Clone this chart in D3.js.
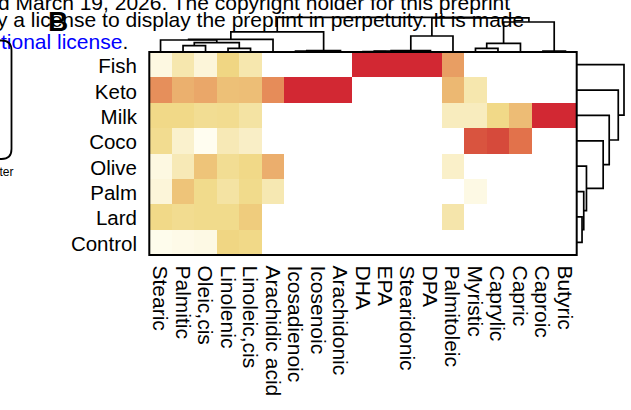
<!DOCTYPE html>
<html>
<head>
<meta charset="utf-8">
<script src="https://cdn.jsdelivr.net/npm/d3@7"></script>
<style>
  html, body { margin: 0; padding: 0; background: #fff; overflow: hidden; }
  svg { display: block; font-family: "Liberation Sans", Arial, Helvetica, sans-serif; }
</style>
</head>
<body>
<svg id="chart" width="631" height="410"></svg>
<script>
// Diets (rows) and fatty acids (columns), already in dendrogram leaf order
const diets = ["Fish", "Keto", "Milk", "Coco", "Olive", "Palm", "Lard", "Control"];
const fattyAcids = ["Stearic", "Palmitic", "Oleic,cis", "Linolenic", "Linoleic,cis",
  "Arachidic acid", "Icosadienoic", "Icosenoic", "Arachidonic", "DHA", "EPA",
  "Stearidonic", "DPA", "Palmitoleic", "Myristic", "Caprylic", "Capric", "Caproic", "Butyric"];

// Scaled fatty-acid abundance per diet (0 = absent, 1 = maximum), columns in fattyAcids order
const fish    = [0.06, 0.19, 0.08, 0.31, 0.19, 0,    0, 0, 0, 1, 1, 1, 1, 0.60, 0,    0,    0,    0, 0];
const keto    = [0.68, 0.50, 0.55, 0.42, 0.43, 0.69, 1, 1, 1, 0, 0, 0, 0, 0.46, 0.19, 0,    0,    0, 0];
const milk    = [0.29, 0.29, 0.26, 0.27, 0.22, 0,    0, 0, 0, 0, 0, 0, 0, 0.15, 0.15, 0.29, 0.44, 1, 1];
const coco    = [0.27, 0.11, 0.02, 0.17, 0.13, 0,    0, 0, 0, 0, 0, 0, 0, 0,    0.87, 0.90, 0.78, 0, 0];
const olive   = [0.06, 0.17, 0.40, 0.26, 0.29, 0.51, 0, 0, 0, 0, 0, 0, 0, 0.12, 0,    0,    0,    0, 0];
const palm    = [0.08, 0.40, 0.28, 0.22, 0.28, 0.18, 0, 0, 0, 0, 0, 0, 0, 0,    0.05, 0,    0,    0, 0];
const lard    = [0.29, 0.27, 0.28, 0.28, 0.36, 0,    0, 0, 0, 0, 0, 0, 0, 0.20, 0,    0,    0,    0, 0];
const control = [0.03, 0.04, 0.05, 0.31, 0.29, 0,    0, 0, 0, 0, 0, 0, 0, 0,    0,    0,    0,    0, 0];
const matrix = [fish, keto, milk, coco, olive, palm, lard, control];

// Column clustering (hclust-style: negative = leaf number, positive = earlier merge)
const colMerge = [[-4, -5], [-2, -3], [2, 1], [-1, 3], [4, -6], [-7, -8], [6, -9], [5, 7],
  [-10, -11], [9, -12], [10, -13], [11, -14], [-15, -16], [13, -17], [-18, -19],
  [14, 15], [12, 16], [8, 17]];
const colHeight = [3.7, 6.3, 9.3, 12, 12.7, 0.8, 1.4, 20.2, 0.5, 0.9, 1.3, 16, 3.7, 8.7, 1, 30, 34.2, 34.7];

// Row clustering
const rowMerge = [[-7, -8], [-6, 1], [-5, 2], [-4, 3], [-3, 4], [-2, 5], [-1, 6]];
const rowHeight = [5.3, 7, 9.7, 26.3, 32.3, 41.3, 47];

// Colour ramp: white -> cream -> yellow -> orange -> red
const colorStops = [0, 0.02, 0.3, 0.5, 0.68, 0.78, 0.9, 1];
const colorRange = ["#ffffff", "#fffdf0", "#f0d884", "#ebb06e", "#e68f5b", "#e2724b", "#d64a3b", "#d22833"];

const svg = d3.select("#chart");

// ---- page header text fragments and panel letter ----
const header = svg.append("g").attr("font-size", 21).attr("fill", "#000");
header.append("text").attr("x", -2).attr("y", 10)
  .text("d March 19, 2026. The copyright holder for this preprint");
header.append("text").attr("x", -3).attr("y", 27)
  .text("y a license to display the preprint in perpetuity. It is made");
const l3 = header.append("text").attr("x", 1).attr("y", 49);
l3.append("tspan").attr("fill", "#0000ff").text("tional license");
l3.append("tspan").attr("fill", "#000").text(".");

svg.append("text").attr("x", 48).attr("y", 31)
  .attr("font-size", 28).attr("font-weight", "bold").text("B");

// edge of the neighbouring panel's legend box
svg.append("path")
  .attr("d", "M-5,40.5 H1.5 Q11.5,40.5 11.5,50.5 V149 Q11.5,159 1.5,159 H-5")
  .attr("fill", "none").attr("stroke", "#000").attr("stroke-width", 1.8);
svg.append("text").attr("x", -0.5).attr("y", 176).attr("font-size", 12).text("ter");

// ---- heatmap ----
const hmLeft = 149.3, hmRight = 576.7, hmTop = 52, hmBottom = 255;
const x = d3.scaleBand().domain(fattyAcids).range([hmLeft, hmRight]).padding(0);
const y = d3.scaleBand().domain(diets).range([hmTop, hmBottom]).padding(0);
const color = d3.scaleLinear().domain(colorStops).range(colorRange).interpolate(d3.interpolateRgb).clamp(true);

const cells = [];
matrix.forEach((row, i) => row.forEach((v, j) => cells.push({ diet: diets[i], acid: fattyAcids[j], v })));

svg.append("g").selectAll("rect").data(cells).join("rect")
  .attr("x", d => x(d.acid))
  .attr("y", d => y(d.diet))
  .attr("width", x.bandwidth() + 0.4)
  .attr("height", y.bandwidth() + 0.4)
  .attr("fill", d => color(d.v))
  .attr("shape-rendering", "crispEdges");

svg.append("rect")
  .attr("x", hmLeft).attr("y", hmTop)
  .attr("width", hmRight - hmLeft).attr("height", hmBottom - hmTop)
  .attr("fill", "none").attr("stroke", "#000").attr("stroke-width", 2);

// ---- dendrograms ----
function dendroPaths(merge, heights, leafPos, hScale, vertical) {
  const nodes = [];
  const info = id => id < 0 ? { p: leafPos(-id - 1), h: 0 } : nodes[id - 1];
  const pt = (p, h) => vertical ? [p, hScale(h)] : [hScale(h), p];
  const paths = [];
  merge.forEach((pair, i) => {
    const a = info(pair[0]), b = info(pair[1]);
    const h = heights[i];
    nodes.push({ p: (a.p + b.p) / 2, h });
    const a0 = pt(a.p, a.h), a1 = pt(a.p, h), b1 = pt(b.p, h), b0 = pt(b.p, b.h);
    paths.push(`M${a0[0]},${a0[1]}L${a1[0]},${a1[1]}L${b1[0]},${b1[1]}L${b0[0]},${b0[1]}`);
  });
  return paths;
}

const colH = d3.scaleLinear().domain([0, 35]).range([hmTop, 17]);
const colPaths = dendroPaths(colMerge, colHeight,
  i => x(fattyAcids[i]) + x.bandwidth() / 2, colH, true);
svg.append("g").selectAll("path").data(colPaths).join("path")
  .attr("d", d => d).attr("fill", "none").attr("stroke", "#000")
  .attr("stroke-width", 1.7).attr("stroke-linejoin", "miter");

const rowH = d3.scaleLinear().domain([0, 47]).range([hmRight, 624]);
const rowPaths = dendroPaths(rowMerge, rowHeight,
  i => y(diets[i]) + y.bandwidth() / 2, rowH, false);
svg.append("g").selectAll("path").data(rowPaths).join("path")
  .attr("d", d => d).attr("fill", "none").attr("stroke", "#000")
  .attr("stroke-width", 1.7).attr("stroke-linejoin", "miter");

// ---- labels ----
svg.append("g").selectAll("text").data(diets).join("text")
  .attr("x", 137)
  .attr("y", d => y(d) + y.bandwidth() / 2 + 1)
  .attr("text-anchor", "end")
  .attr("dominant-baseline", "central")
  .attr("font-size", 20.5)
  .text(d => d);

svg.append("g").selectAll("text").data(fattyAcids).join("text")
  .attr("transform", d => `translate(${x(d) + x.bandwidth() / 2},265.5) rotate(90)`)
  .attr("dominant-baseline", "central")
  .attr("font-size", 21)
  .text(d => d);
</script>
</body>
</html>
